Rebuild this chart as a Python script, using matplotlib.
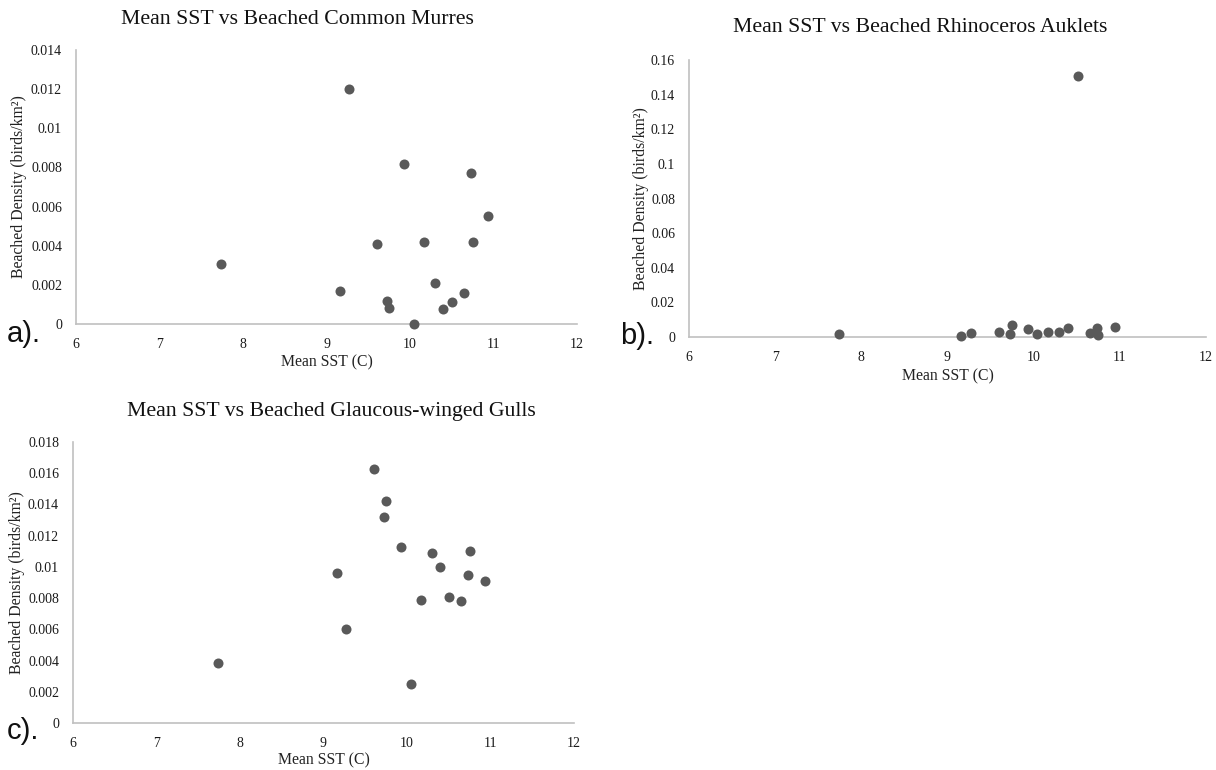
import matplotlib
matplotlib.use("Agg")
import matplotlib.pyplot as plt

# Data
sst = [7.74, 9.16, 9.27, 9.60, 9.72, 9.75, 9.93, 10.05, 10.17, 10.30,
       10.40, 10.50, 10.65, 10.73, 10.75, 10.94]
murres = [0.00307, 0.0017, 0.0120, 0.0041, 0.0012, 0.0008, 0.0082, 0.0000,
          0.0042, 0.0021, 0.00075, 0.0011, 0.0016, 0.0077, 0.0042, 0.0055]
sst_b = [7.74, 9.16, 9.27, 9.60, 9.72, 9.75, 9.93, 10.04, 10.17, 10.29,
         10.40, 10.51, 10.65, 10.73, 10.75, 10.94]
auklets = [0.0015, 0.0008, 0.0023, 0.0027, 0.0015, 0.0069, 0.0044, 0.0019,
           0.0027, 0.0031, 0.0054, 0.151, 0.0023, 0.0052, 0.0012, 0.0056]
gulls = [0.00385, 0.0096, 0.0060, 0.0163, 0.0132, 0.0142, 0.0113, 0.0025,
         0.0079, 0.0109, 0.0100, 0.0081, 0.0078, 0.0095, 0.0110, 0.0091]

titles = ["Mean SST vs Beached Common Murres",
          "Mean SST vs Beached Rhinoceros Auklets",
          "Mean SST vs Beached Glaucous-winged Gulls"]
panel_labels = ["a).", "b).", "c)."]
xticks = [6, 7, 8, 9, 10, 11, 12]
yticks_a = [0, 0.002, 0.004, 0.006, 0.008, 0.01, 0.012, 0.014]
yticks_b = [0, 0.02, 0.04, 0.06, 0.08, 0.1, 0.12, 0.14, 0.16]
yticks_c = [0, 0.002, 0.004, 0.006, 0.008, 0.01, 0.012, 0.014, 0.016, 0.018]

W, H = 1216, 770
fig = plt.figure(figsize=(W / 100, H / 100), dpi=100)
serif = "Liberation Serif"
dot_color = "#595959"
spine_color = "#c0c0c0"


def fx(px):
    return px / W


def fy(py):
    return 1 - py / H


def fmt(v):
    if v == 0:
        return "0"
    s = ("%.3f" % v).rstrip("0").rstrip(".")
    return s


def make_panel(xs, ys, yticks, box, title, title_xy, label, label_xy,
               ylab_x, xlab_y):
    left, right, top, bottom = box
    ax = fig.add_axes([fx(left), fy(bottom), fx(right - left), (bottom - top) / H])
    ax.scatter(xs, ys, s=52, color=dot_color, zorder=3, linewidths=0,
               clip_on=False)
    ax.set_xlim(6, 12)
    ax.set_ylim(yticks[0], yticks[-1])
    ax.set_xticks(xticks)
    ax.set_yticks(yticks)
    ax.set_xticklabels([str(t) for t in xticks], fontfamily=serif, fontsize=10)
    ax.set_yticklabels([fmt(t) for t in yticks], fontfamily=serif, fontsize=10)
    ax.tick_params(length=0, pad=10, colors="#1a1a1a")
    ax.tick_params(axis="y", pad=10)
    for sp in ["top", "right"]:
        ax.spines[sp].set_visible(False)
    for sp in ["left", "bottom"]:
        ax.spines[sp].set_color(spine_color)
        ax.spines[sp].set_linewidth(1.2)
    fig.text(fx(title_xy[0]), fy(title_xy[1]), title, fontfamily=serif,
             fontsize=15.7, ha="center", va="center", color="#111111")
    fig.text(fx(label_xy[0]), fy(label_xy[1]), label, fontfamily="Liberation Sans",
             fontsize=21, ha="left", va="center", color="#111111")
    fig.text(fx(ylab_x), fy((top + bottom) / 2), "Beached Density (birds/km²)",
             fontfamily=serif, fontsize=11.3, rotation=90, ha="center", va="center",
             color="#222222")
    fig.text(fx((left + right) / 2), fy(xlab_y), "Mean SST (C)", fontfamily=serif,
             fontsize=11.3, ha="center", va="center", color="#222222")
    return ax


make_panel(sst, murres, yticks_a, (76, 577, 50, 324), titles[0], (297, 19),
           panel_labels[0], (7, 334), 19, 362)
make_panel(sst_b, auklets, yticks_b, (689, 1206, 60, 337), titles[1], (920, 28),
           panel_labels[1], (620, 336), 641, 376)
make_panel(sst, gulls, yticks_c, (73, 574, 442, 723), titles[2], (331, 412),
           panel_labels[2], (7, 731), 17, 760)

fig.savefig("out.png", dpi=100, facecolor="white")
